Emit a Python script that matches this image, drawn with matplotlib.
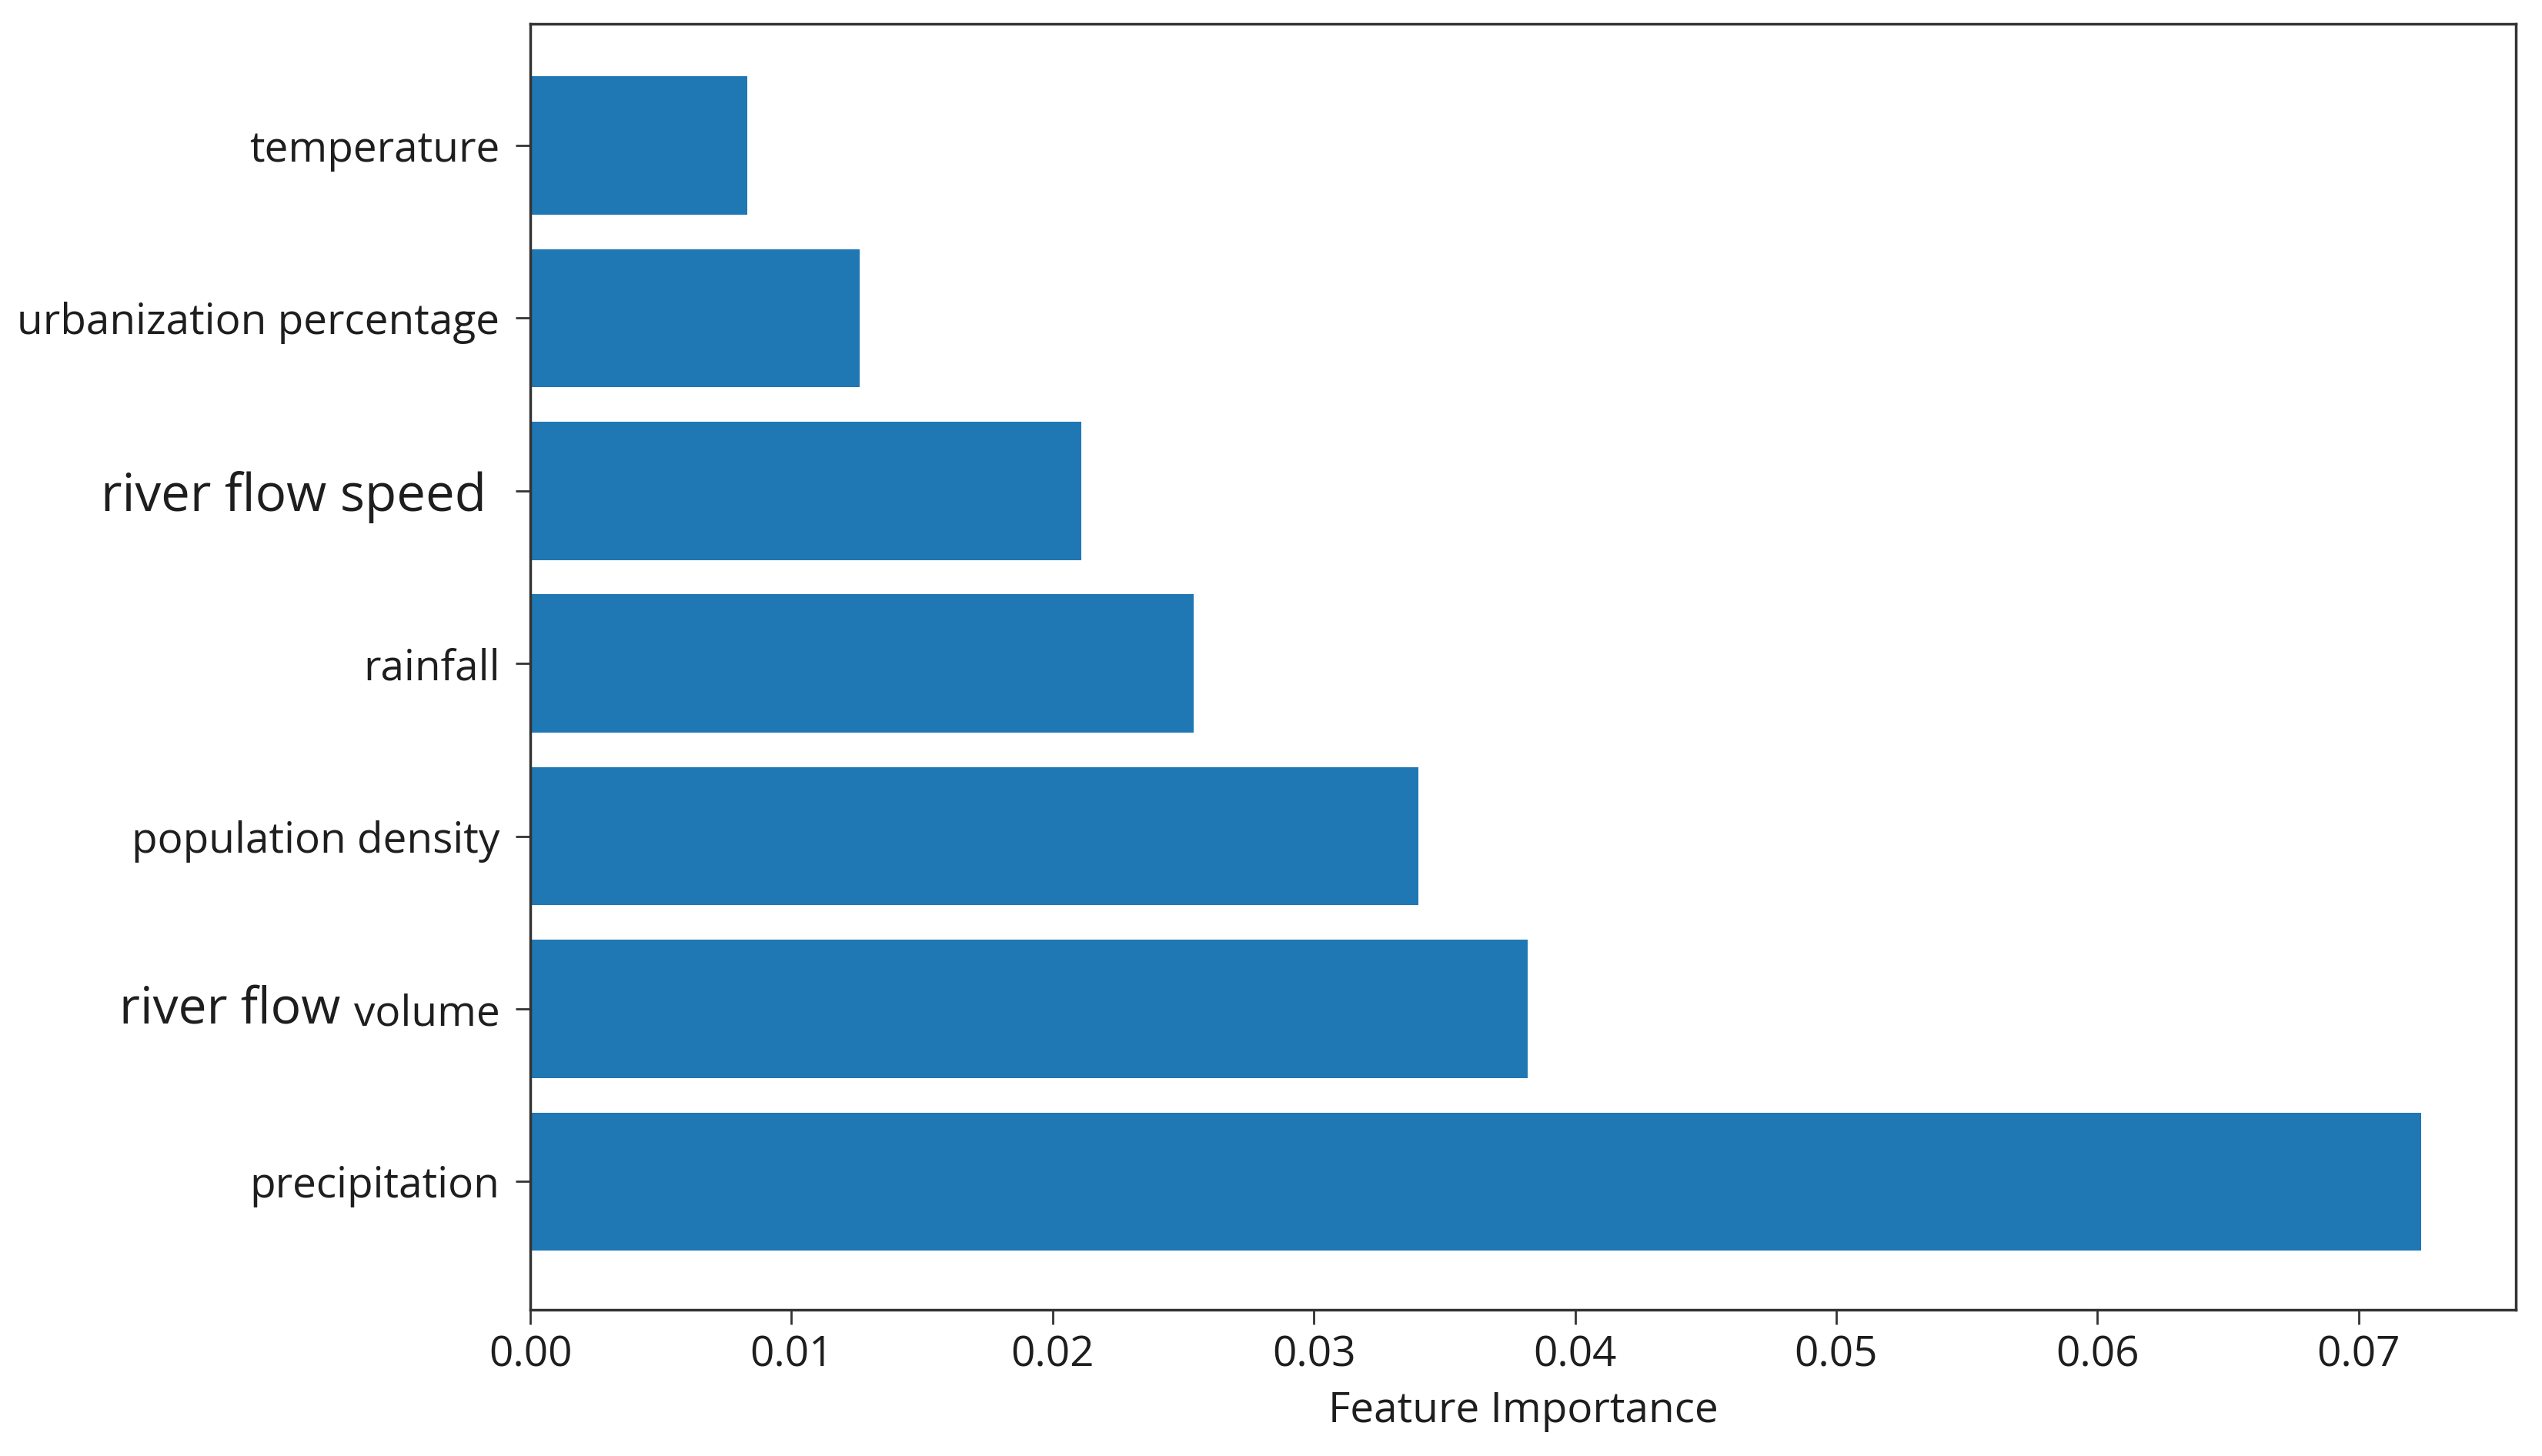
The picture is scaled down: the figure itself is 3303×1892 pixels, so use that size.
import matplotlib
matplotlib.use("Agg")
import matplotlib.pyplot as plt

features = ["precipitation", "river flow volume", "population density",
            "rainfall", "river flow speed", "urbanization percentage", "temperature"]
importance = [0.0724, 0.0382, 0.0340, 0.0254, 0.0211, 0.0126, 0.0083]
xlabel = "Feature Importance"

plt.rcParams['font.family'] = ['Open Sans', 'DejaVu Sans']
BASE = 39.5
TXT = '#1e1e1e'

fig = plt.figure(figsize=(33.03, 18.92), dpi=100)
ax = fig.add_axes([689/3303, 1 - 1702/1892, (3269-689)/3303, (1702-31)/1892])

ypos = list(range(len(features)))
ax.barh(ypos, importance, height=0.8, color='#1f77b4')
ax.set_ylim(-0.742, 6.704)
ax.set_yticks(ypos)

# tick labels: "river flow speed" is drawn larger in the reference,
# and in "river flow volume" only the "river flow" part is larger
shown = [("river flow speed " if f == "river flow speed" else
          "volume" if f == "river flow volume" else f) for f in features]
ax.set_yticklabels(shown, fontsize=BASE, color=TXT)
lbls = ax.get_yticklabels()
lbls[features.index("river flow speed")].set_fontsize(48.5)
ax.annotate("river flow ", xy=(0, 0), xycoords=lbls[features.index("river flow volume")],
            ha='right', va='bottom', fontsize=47.5, color=TXT)

ax.set_xlabel(xlabel, fontsize=BASE, labelpad=12, color=TXT)
ax.tick_params(axis='x', labelsize=BASE, labelcolor=TXT, length=14, width=2, pad=9, color='#333333')
ax.tick_params(axis='y', length=14, width=2, pad=14.5, color='#333333')
for s in ax.spines.values():
    s.set_linewidth(2.5)
    s.set_color('#333333')

fig.savefig("out.png", dpi=100)
